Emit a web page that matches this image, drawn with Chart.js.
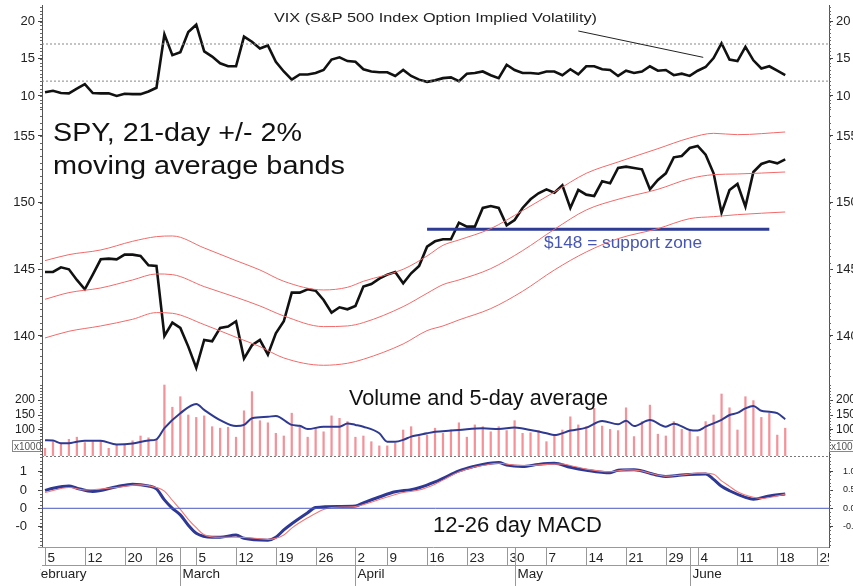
<!DOCTYPE html>
<html>
<head>
<meta charset="utf-8">
<script src="https://cdn.jsdelivr.net/npm/chart.js@4.4.1/dist/chart.umd.min.js"></script>
<style>
  html, body { margin: 0; padding: 0; background: #fff; }
  #wrap { position: relative; width: 853px; height: 586px; overflow: hidden; }
  canvas { position: absolute; left: 0; }
</style>
</head>
<body>
<div id="wrap">
  <canvas id="vixChart" width="853" height="108" style="top:0"></canvas>
  <canvas id="spyChart" width="853" height="275" style="top:108px"></canvas>
  <canvas id="volChart" width="853" height="73" style="top:383px"></canvas>
  <canvas id="macdChart" width="853" height="130" style="top:456px"></canvas>
</div>
<script>
// trading-day index 0 = Feb 5, 93 = Jun 19
const xMin = -0.38, xMax = 98.5;

const vix = [10.5, 10.7, 10.4, 10.35, 11.0, 11.6, 10.4, 10.35, 10.35, 10.0,
  10.3, 10.25, 10.25, 10.6, 11.1, 18.3, 15.5, 15.9, 18.6, 19.6,
  16.0, 15.3, 14.4, 14.0, 14.0, 18.0, 17.3, 16.4, 16.8, 14.6,
  13.3, 12.2, 12.9, 12.9, 13.1, 13.5, 14.9, 15.2, 14.7, 14.6,
  13.6, 13.3, 13.2, 13.2, 12.7, 13.5, 12.7, 12.2, 11.9, 12.1,
  12.4, 12.5, 12.0, 13.0, 13.1, 13.3, 12.8, 12.4, 14.2, 13.5,
  13.1, 13.1, 13.0, 13.3, 13.3, 12.8, 13.6, 12.9, 14.0, 14.0,
  13.6, 13.5, 12.7, 13.4, 13.1, 13.3, 14.0, 13.4, 13.5, 12.8,
  13.0, 12.7, 13.4, 13.9, 15.1, 17.1, 14.9, 14.7, 16.6, 14.8,
  13.7, 14.0, 13.4, 12.8];
const vixTicks = [10, 15, 20];
const vixRefLevels = [12, 17];

const spy = [144.8, 144.8, 145.15, 145.0, 144.2, 143.5, 144.6, 145.75, 145.8, 145.75,
  146.1, 146.1, 146.0, 145.3, 145.25, 140.0, 141.0, 140.6, 139.2, 137.6,
  139.7, 139.6, 140.6, 140.7, 141.1, 138.3, 139.3, 139.7, 138.6, 140.2,
  141.1, 143.25, 143.25, 143.5, 143.4, 142.7, 141.75, 142.15, 142.0, 142.25,
  143.7, 143.9, 144.3, 144.6, 144.8, 143.95, 144.7, 145.25, 146.7, 147.1,
  147.25, 147.25, 148.5, 148.2, 148.2, 149.6, 149.75, 149.6, 148.3, 148.7,
  149.6, 150.25, 150.7, 151.0, 150.75, 151.3, 149.6, 150.95, 150.6, 150.5,
  151.6, 151.45, 152.6, 152.7, 152.6, 152.5, 151.0, 151.7, 152.2, 153.4,
  153.5, 154.1, 154.25, 153.6, 152.2, 149.25, 150.95, 151.4, 149.7, 152.3,
  152.9, 153.1, 152.95, 153.25];
const spyTicks = [140, 145, 150, 155];

const bandIdx = [0, 3, 7, 11, 14, 16, 20, 24, 27, 30, 35, 38, 40, 45, 48, 50, 52, 56, 60, 64, 68, 72, 77, 81, 84, 87, 93];
const bandUpper = [145.65, 146.1, 146.45, 147.1, 147.45, 147.5, 146.6, 145.65, 144.95, 144.1, 143.45, 143.65, 144.1, 145.0, 146.0, 146.8, 147.2, 148.05, 149.4, 150.8, 152.2, 153.05, 154.05, 154.85, 155.2, 155.1, 155.3];
const bandMid = [142.75, 143.25, 143.6, 144.2, 144.65, 144.6, 143.7, 142.9, 142.25, 141.5, 140.7, 140.75, 141.0, 142.2, 143.2, 143.85, 144.2, 145.05, 146.4, 148.0, 149.45, 150.25, 151.0, 151.8, 152.1, 152.15, 152.3];
const bandLower = [139.85, 140.35, 140.75, 141.25, 141.75, 141.7, 140.85, 139.9, 139.2, 138.35, 137.8, 137.95, 138.25, 139.4, 140.4, 140.75, 141.2, 142.05, 143.35, 144.95, 146.3, 147.3, 148.05, 148.8, 148.95, 149.1, 149.3];

const supportLevel = 148;
const supportFrom = 48, supportTo = 91;

const volume = [39, 61, 56, 69, 76, 58, 61, 64, 39, 50,
  53, 64, 80, 74, 69, 250, 176, 211, 150, 142,
  147, 111, 106, 109, 76, 164, 228, 131, 124, 89,
  80, 156, 111, 76, 106, 94, 147, 139, 128, 76,
  80, 61, 47, 47, 56, 100, 111, 78, 83, 106,
  89, 100, 124, 76, 117, 111, 94, 111, 98, 131,
  89, 91, 98, 61, 83, 100, 144, 117, 111, 172,
  113, 102, 98, 174, 78, 128, 183, 86, 80, 128,
  102, 96, 78, 128, 150, 220, 174, 100, 211, 198,
  142, 156, 83, 106];
const volAvgIdx = [0, 1, 2, 3, 4, 5, 7, 9, 11, 13, 14, 15, 17, 19, 20, 22, 24, 25, 26, 28, 29, 31, 32, 33, 35, 37, 38, 39, 40, 42, 43, 44, 45, 46, 48, 49, 51, 52, 55, 57, 59, 61, 63, 64, 66, 68, 70, 72, 73, 74, 76, 78, 79, 81, 82, 83, 85, 86, 87, 88, 89, 90, 91, 92, 93];
const volAvg = [66, 65, 56, 56, 61, 64, 64, 52, 55, 65, 69, 106, 156, 187, 167, 133, 113, 117, 139, 144, 147, 117, 114, 103, 111, 111, 122, 117, 111, 89, 61, 61, 67, 78, 89, 94, 98, 100, 106, 103, 108, 100, 89, 83, 98, 108, 130, 119, 131, 113, 133, 111, 121, 100, 98, 111, 134, 150, 157, 172, 180, 164, 161, 156, 136];
const volTicks = [100, 150, 200];

const macdIdx = [0, 1, 3, 4, 6, 9, 11, 13, 14, 15, 16, 17, 18, 19, 21, 22, 24, 25, 28, 29, 30, 31, 33, 34, 37, 39, 40, 42, 44, 46, 47, 49, 50, 52, 54, 55, 57, 58, 60, 62, 64, 66, 68, 71, 72, 74, 77, 78, 80, 83, 84, 85, 86, 88, 89, 91, 93];
const macdLine = [0.49, 0.55, 0.61, 0.55, 0.46, 0.59, 0.66, 0.61, 0.53, 0.23, 0.0, -0.18, -0.46, -0.68, -0.79, -0.79, -0.73, -0.82, -0.87, -0.79, -0.59, -0.42, -0.12, 0.02, 0.05, 0.06, 0.15, 0.31, 0.45, 0.51, 0.56, 0.72, 0.82, 1.02, 1.15, 1.2, 1.25, 1.18, 1.14, 1.2, 1.23, 1.12, 1.04, 0.97, 1.04, 1.05, 0.9, 0.87, 0.91, 0.94, 0.79, 0.6, 0.48, 0.3, 0.25, 0.34, 0.39];
const signalIdx = [0, 3, 5, 9, 12, 14, 15, 16, 17, 18, 19, 20, 22, 24, 27, 28, 30, 31, 33, 35, 36, 39, 40, 42, 45, 47, 49, 50, 52, 54, 55, 57, 59, 61, 63, 65, 66, 68, 71, 73, 75, 76, 78, 80, 82, 84, 85, 86, 87, 89, 90, 92, 93];
const signalLine = [0.43, 0.57, 0.5, 0.57, 0.64, 0.57, 0.47, 0.22, -0.03, -0.3, -0.53, -0.72, -0.79, -0.79, -0.83, -0.85, -0.73, -0.54, -0.26, -0.03, 0.02, 0.05, 0.1, 0.24, 0.43, 0.5, 0.66, 0.77, 0.99, 1.13, 1.17, 1.23, 1.18, 1.17, 1.2, 1.21, 1.17, 1.07, 1.0, 1.05, 1.02, 0.96, 0.88, 0.91, 0.96, 0.93, 0.75, 0.6, 0.45, 0.3, 0.27, 0.34, 0.39];
const macdTicks = [-0.5, 0, 0.5, 1];

const weekIdx = [0, 5, 10, 14, 19, 24, 29, 34, 39, 43, 48, 53, 58, 63, 68, 73, 78, 82, 87, 92, 97];
const weekLabels = ['5', '12', '20', '26', '5', '12', '19', '26', '2', '9', '16', '23', '30', '7', '14', '21', '29', '4', '11', '18', '25'];
const monthIdx = [-1.9, 17, 39, 59, 81];
const monthLabels = ['February', 'March', 'April', 'May', 'June'];

const LEFT_W = 42, RIGHT_W = 24;
const FONT = "'Liberation Sans', Arial, sans-serif";
Chart.defaults.font.family = FONT;

const pts = (idx, vals) => vals.map((v, k) => ({ x: idx[k], y: v }));
const series = vals => vals.map((v, i) => ({ x: i, y: v }));
const flat = (lvl, a, b) => [{ x: a, y: lvl }, { x: b, y: lvl }];

// the source image is a little wider than true Arial, so stretch text to the measured width
function wideText(ctx, text, x, y, width) {
  const w = ctx.measureText(text).width;
  ctx.save();
  ctx.translate(x, y);
  ctx.scale(width / w, 1);
  ctx.textAlign = 'left';
  ctx.fillText(text, 0, 0);
  ctx.restore();
}

function yAxis(pos, min, max, tickVals, fmt, size, pad) {
  return {
    type: 'linear', position: pos, min, max,
    grid: { drawOnChartArea: false, tickLength: 4, color: '#444' },
    border: { color: '#555' },
    ticks: { padding: pad == null ? 3 : pad, color: '#222', font: { size }, callback: fmt, autoSkip: false },
    afterBuildTicks: s => { s.ticks = tickVals.map(v => ({ value: v })); },
    afterFit: s => {
      s.width = pos === 'left' ? LEFT_W : RIGHT_W;
      s.paddingTop = 0;
      s.paddingBottom = 0;
    }
  };
}

function options(yl, yr, padding) {
  return {
    responsive: false, animation: false, events: [],
    layout: { padding },
    plugins: { legend: { display: false }, tooltip: { enabled: false } },
    scales: { x: { type: 'linear', min: xMin, max: xMax, display: false, offset: false }, yl, yr }
  };
}

// small unlabelled ticks on both axes
function minorTicks(step) {
  return {
    id: 'minorTicks',
    afterDraw(chart) {
      const s = chart.scales.yl, a = chart.chartArea, ctx = chart.ctx;
      ctx.save();
      ctx.strokeStyle = '#666';
      ctx.lineWidth = 1;
      ctx.beginPath();
      const n0 = Math.ceil(s.min / step), n1 = Math.floor(s.max / step);
      for (let n = n0; n <= n1; n++) {
        const y = Math.round(s.getPixelForValue(n * step)) + 0.5;
        ctx.moveTo(a.left - 2, y); ctx.lineTo(a.left, y);
        ctx.moveTo(a.right, y); ctx.lineTo(a.right + 2, y);
      }
      ctx.stroke();
      ctx.restore();
    }
  };
}

const line = (data, color, width, extra) => Object.assign({
  type: 'line', data, borderColor: color, borderWidth: width, pointRadius: 0,
  fill: false, yAxisID: 'yl'
}, extra || {});

// ---- VIX panel
new Chart(document.getElementById('vixChart'), {
  type: 'line',
  data: {
    datasets: [
      ...vixRefLevels.map(l => line(flat(l, xMin, xMax), '#888', 1, { borderDash: [2, 2] })),
      line(series(vix), '#111', 2.6)
    ]
  },
  options: options(
    yAxis('left', 8.38, 22.25, vixTicks, v => String(v), 13),
    yAxis('right', 8.38, 22.25, vixTicks, v => String(v), 13),
    { top: 5, bottom: 0, left: 0, right: 0 }
  ),
  plugins: [minorTicks(0.5), {
    id: 'vixNotes',
    afterDraw(chart) {
      const { ctx, scales: { x, yl } } = chart;
      ctx.save();
      ctx.fillStyle = '#222';
      ctx.font = '13.5px ' + FONT;
      wideText(ctx, 'VIX (S&P 500 Index Option Implied Volatility)', 274, 21.5, 323);
      ctx.strokeStyle = '#222';
      ctx.lineWidth = 1;
      ctx.beginPath();
      ctx.moveTo(x.getPixelForValue(67), yl.getPixelForValue(18.75));
      ctx.lineTo(x.getPixelForValue(82.7), yl.getPixelForValue(15.2));
      ctx.stroke();
      ctx.restore();
    }
  }]
});

// ---- SPY panel
new Chart(document.getElementById('spyChart'), {
  type: 'line',
  data: {
    datasets: [
      line(pts(bandIdx, bandUpper), '#f26a6a', 1, { cubicInterpolationMode: 'monotone' }),
      line(pts(bandIdx, bandMid), '#f26a6a', 1, { cubicInterpolationMode: 'monotone' }),
      line(pts(bandIdx, bandLower), '#f26a6a', 1, { cubicInterpolationMode: 'monotone' }),
      line(flat(supportLevel, supportFrom, supportTo), '#2e3c96', 3),
      line(series(spy), '#111', 2.6)
    ]
  },
  options: options(
    yAxis('left', 136.47, 157.1, spyTicks, v => String(v), 13),
    yAxis('right', 136.47, 157.1, spyTicks, v => String(v), 13),
    { top: 0, bottom: 0, left: 0, right: 0 }
  ),
  plugins: [minorTicks(0.5), {
    id: 'spyNotes',
    afterDraw(chart) {
      const ctx = chart.ctx;
      ctx.save();
      ctx.fillStyle = '#111';
      ctx.font = '26.5px ' + FONT;
      wideText(ctx, 'SPY, 21-day +/- 2%', 53, 33, 249);
      wideText(ctx, 'moving average bands', 53, 66, 292);
      ctx.fillStyle = '#4656b4';
      ctx.font = '16px ' + FONT;
      wideText(ctx, '$148 = support zone', 544, 140, 158);
      ctx.restore();
    }
  }]
});

// ---- Volume panel
new Chart(document.getElementById('volChart'), {
  type: 'bar',
  data: {
    datasets: [
      line(pts(volAvgIdx, volAvg), '#2e3a91', 2, { cubicInterpolationMode: 'monotone' }),
      {
        type: 'bar', data: series(volume), yAxisID: 'yl',
        backgroundColor: '#f4929a', barThickness: 1.6, borderWidth: 0
      }
    ]
  },
  options: options(
    yAxis('left', 13.3, 256.7, volTicks, v => String(v), 12),
    yAxis('right', 13.3, 256.7, volTicks, v => String(v), 12),
    { top: 0, bottom: 0, left: 0, right: 0 }
  ),
  plugins: [minorTicks(10), {
    id: 'volNotes',
    afterDraw(chart) {
      const ctx = chart.ctx;
      ctx.save();
      ctx.fillStyle = '#111';
      ctx.font = '22px ' + FONT;
      wideText(ctx, 'Volume and 5-day average', 349, 22, 259);
      ctx.font = '10px ' + FONT;
      ctx.fillStyle = '#555';
      ctx.strokeStyle = '#888';
      ctx.lineWidth = 1;
      ctx.strokeRect(12.5, 57.5, 28, 11);
      ctx.fillText('x1000', 14, 66.5);
      ctx.strokeRect(829.5, 57.5, 30, 11);
      ctx.fillText('x1000', 831, 66.5);
      ctx.restore();
    }
  }]
});

// ---- MACD panel with date axis underneath
new Chart(document.getElementById('macdChart'), {
  type: 'line',
  data: {
    datasets: [
      line(flat(0, xMin, xMax), '#4a58c0', 1),
      line(pts(signalIdx, signalLine), '#f27878', 1.1, { cubicInterpolationMode: 'monotone' }),
      line(pts(macdIdx, macdLine), '#2d3994', 3, { cubicInterpolationMode: 'monotone' })
    ]
  },
  options: options(
    yAxis('left', -1.057, 1.429, macdTicks, v => (v < 0 ? '-' : '') + Math.trunc(Math.abs(v)), 13, 11),
    yAxis('right', -1.057, 1.429, macdTicks, v => v.toFixed(1), 9, 10),
    { top: 0, bottom: 39, left: 0, right: 0 }
  ),
  plugins: [minorTicks(0.1), {
    id: 'dateAxis',
    afterDraw(chart) {
      const { ctx, chartArea: a, scales: { x } } = chart;
      const top = a.bottom, mid = a.bottom + 18, bot = chart.height;
      ctx.save();
      ctx.strokeStyle = '#777';
      ctx.lineWidth = 1;
      ctx.setLineDash([2, 2]);
      ctx.beginPath();
      ctx.moveTo(a.left, a.top + 0.5); ctx.lineTo(a.right, a.top + 0.5);
      ctx.stroke();
      ctx.setLineDash([]);

      ctx.fillStyle = '#111';
      ctx.font = '22px ' + FONT;
      wideText(ctx, '12-26 day MACD', 433, 75.5, 169);

      ctx.strokeStyle = '#999';
      ctx.beginPath();
      ctx.moveTo(a.left - 4, top + 0.5); ctx.lineTo(a.right, top + 0.5);
      ctx.moveTo(a.left, mid + 0.5); ctx.lineTo(a.right, mid + 0.5);
      ctx.stroke();

      ctx.beginPath();
      ctx.rect(40, top, a.right - 40, bot - top);
      ctx.clip();
      ctx.fillStyle = '#222';
      ctx.font = '13.5px ' + FONT;
      ctx.textBaseline = 'alphabetic';
      ctx.beginPath();
      weekIdx.forEach((d, k) => {
        const px = Math.round(x.getPixelForValue(d)) + 0.5;
        ctx.moveTo(px, top); ctx.lineTo(px, mid);
        ctx.fillText(weekLabels[k], px + 2, top + 15);
      });
      monthIdx.forEach((d, k) => {
        const px = Math.round(x.getPixelForValue(d)) + 0.5;
        if (d >= 0) { ctx.moveTo(px, top); ctx.lineTo(px, bot); }
        ctx.fillText(monthLabels[k], px + 2, top + 31);
      });
      ctx.stroke();
      ctx.restore();
    }
  }]
});
</script>
</body>
</html>
